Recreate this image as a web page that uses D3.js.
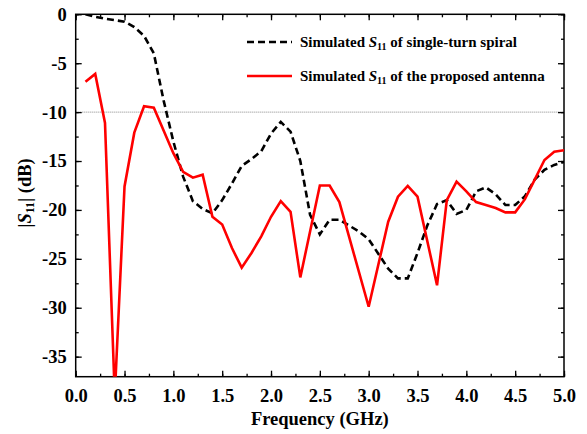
<!DOCTYPE html>
<html><head><meta charset="utf-8">
<script src="https://cdn.jsdelivr.net/npm/d3@7"></script>
<style>body{margin:0;background:#fff}svg{display:block}</style>
</head><body>
<svg id="c" width="587" height="434"></svg>
<script>
const spiralFreq = [0.1,0.2,0.3,0.4,0.5,0.6,0.7,0.8,0.9,1.0,1.1,1.2,1.3,1.4,1.5,1.6,1.7,1.8,1.9,2.0,2.1,2.2,2.3,2.4,2.5,2.6,2.7,2.8,2.9,3.0,3.1,3.2,3.3,3.4,3.5,3.6,3.7,3.8,3.9,4.0,4.1,4.2,4.3,4.4,4.5,4.6,4.7,4.8,4.9,5.0];
const spiralS11 = [0,-0.25,-0.45,-0.6,-0.75,-1.3,-2.2,-4.0,-8.8,-13.0,-16.6,-19.1,-19.9,-20.35,-19.0,-17.3,-15.5,-14.8,-14.0,-12.2,-11.0,-12.0,-15.0,-20.5,-22.5,-21.0,-21.0,-21.6,-22.2,-23.0,-24.5,-26.0,-27.0,-27.0,-24.4,-21.6,-19.4,-19.0,-20.4,-20.0,-18.1,-17.7,-18.4,-19.5,-19.5,-18.6,-16.9,-15.9,-15.4,-15.1];
const antennaFreq = [0.1,0.2,0.3,0.4,0.5,0.6,0.7,0.8,1.0,1.1,1.2,1.3,1.4,1.5,1.6,1.7,1.8,1.9,2.0,2.1,2.2,2.3,2.5,2.6,2.7,3.0,3.2,3.3,3.4,3.5,3.7,3.8,3.9,4.0,4.1,4.2,4.3,4.4,4.5,4.6,4.7,4.8,4.9,5.0];
const antennaS11 = [-6.9,-6.1,-11.1,-39,-17.6,-12.1,-9.4,-9.55,-14.2,-16.1,-16.7,-16.4,-20.7,-21.5,-23.9,-25.9,-24.4,-22.7,-20.7,-19.1,-20.2,-26.9,-17.5,-17.5,-19.2,-29.9,-21.2,-18.65,-17.55,-18.65,-27.7,-19.0,-17.1,-18.1,-19.2,-19.5,-19.8,-20.25,-20.25,-18.9,-16.9,-14.9,-14.05,-13.9];
const xTicks = [0,0.5,1,1.5,2,2.5,3,3.5,4,4.5,5];
const yTicks = [0,-5,-10,-15,-20,-25,-30,-35];
const refLevel = -10;

const svg = d3.select("#c");
const m = {l:75.7, t:14.3, r:23, b:57.3};
const W = 587, H = 434;
const x = d3.scaleLinear().domain([0,5]).range([m.l, W-m.r]);
const y = d3.scaleLinear().domain([-37.05,0]).range([H-m.b, m.t]);
const font = "'Liberation Serif','Times New Roman',serif";

svg.append("clipPath").attr("id","clip").append("rect")
  .attr("x",m.l).attr("y",m.t).attr("width",x(5)-m.l).attr("height",y(-37.05)-m.t);

// reference line
svg.append("line").attr("x1",x(0)).attr("x2",x(5)).attr("y1",y(refLevel)).attr("y2",y(refLevel))
  .attr("stroke","#555").attr("stroke-width",0.7).attr("stroke-dasharray","1,1");

const minorX = d3.range(0,5.001,0.25), minorY = d3.range(0,-37.01,-2.5);
function addAxis(axis, tr){
  const g = svg.append("g").attr("transform",tr).call(axis);
  g.select(".domain").remove();
  g.selectAll("line").attr("stroke","#000").attr("stroke-width",1.3);
  g.selectAll("text").attr("font-family",font).attr("font-weight","bold").attr("font-size",18.5).attr("fill","#000");
  return g;
}
const fmtY = d => String(d);
addAxis(d3.axisBottom(x).tickValues(minorX).tickSize(-3).tickFormat(""), `translate(0,${y(-37.05)})`);
addAxis(d3.axisBottom(x).tickValues(xTicks).tickSize(-6).tickPadding(12).tickFormat(d3.format(".1f")), `translate(0,${y(-37.05)})`);
addAxis(d3.axisTop(x).tickValues(minorX).tickSize(-3).tickFormat(""), `translate(0,${m.t})`);
addAxis(d3.axisTop(x).tickValues(xTicks).tickSize(-6).tickFormat(""), `translate(0,${m.t})`);
addAxis(d3.axisLeft(y).tickValues(minorY).tickSize(-3).tickFormat(""), `translate(${m.l},0)`);
addAxis(d3.axisLeft(y).tickValues(yTicks).tickSize(-6).tickPadding(9).tickFormat(fmtY), `translate(${m.l},0)`);
addAxis(d3.axisRight(y).tickValues(minorY).tickSize(-3).tickFormat(""), `translate(${x(5)},0)`);
addAxis(d3.axisRight(y).tickValues(yTicks).tickSize(-6).tickFormat(""), `translate(${x(5)},0)`);

svg.append("rect").attr("x",m.l).attr("y",m.t).attr("width",x(5)-m.l).attr("height",y(-37.05)-m.t)
  .attr("fill","none").attr("stroke","#000").attr("stroke-width",1.5);

const line = d3.line().x(d=>x(d[0])).y(d=>y(d[1]));
const plot = svg.append("g").attr("clip-path","url(#clip)");
plot.append("path").datum(spiralFreq.map((f,i)=>[f,spiralS11[i]]))
  .attr("d",line).attr("fill","none").attr("stroke","#000").attr("stroke-width",2.6).attr("stroke-dasharray","7,4");
plot.append("path").datum(antennaFreq.map((f,i)=>[f,antennaS11[i]]))
  .attr("d",line).attr("fill","none").attr("stroke","#ff0000").attr("stroke-width",2.6);

const leg = [
  {y:42, dash:"7,4", color:"#000", pre:"Simulated ", post:" of single-turn spiral"},
  {y:76, dash:null, color:"#ff0000", pre:"Simulated ", post:" of the proposed antenna"}
];
leg.forEach(d=>{
  svg.append("line").attr("x1",247).attr("x2",292).attr("y1",d.y).attr("y2",d.y)
    .attr("stroke",d.color).attr("stroke-width",2.6).attr("stroke-dasharray",d.dash);
  const t = svg.append("text").attr("x",300).attr("y",d.y+5).attr("font-family",font)
    .attr("font-weight","bold").attr("font-size",15).attr("fill","#000");
  t.append("tspan").text(d.pre);
  t.append("tspan").attr("font-style","italic").text("S");
  t.append("tspan").attr("font-size",10).attr("dy",3).text("11");
  t.append("tspan").attr("dy",-3).text(d.post);
});

svg.append("text").attr("x",(x(0)+x(5))/2).attr("y",425).attr("text-anchor","middle")
  .attr("font-family",font).attr("font-weight","bold").attr("font-size",18.5).text("Frequency (GHz)");
const yt = svg.append("text").attr("transform","translate(31,193) rotate(-90)").attr("text-anchor","middle")
  .attr("font-family",font).attr("font-weight","bold").attr("font-size",18.5);
yt.append("tspan").text("|");
yt.append("tspan").attr("font-style","italic").text("S");
yt.append("tspan").attr("font-size",12).attr("dy",3).text("11");
yt.append("tspan").attr("dy",-3).text("| (dB)");
</script>
</body></html>
